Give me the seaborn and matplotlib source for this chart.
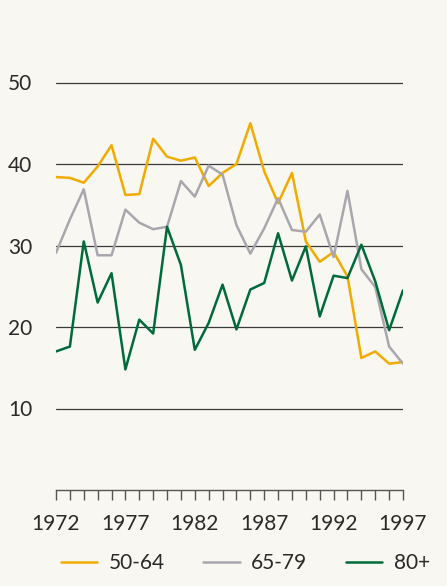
import matplotlib.pyplot as plt
import numpy as np
import pandas as pd
import seaborn as sns

years = list(range(1972, 1998))
age_50_64 = [38.4, 38.3, 37.7, 39.7, 42.3, 36.2, 36.3, 43.1, 40.9, 40.4, 40.8, 37.3, 38.9,
             40.0, 45.0, 39.1, 35.2, 38.9, 30.5, 28.0, 29.2, 26.2, 16.2, 17.0, 15.5, 15.7]
age_65_79 = [29.1, 33.2, 36.9, 28.8, 28.8, 34.4, 32.8, 32.0, 32.3, 37.9, 36.0, 39.8, 38.7,
             32.5, 29.0, 32.1, 35.8, 31.9, 31.7, 33.8, 28.6, 36.7, 27.1, 24.9, 17.6, 15.5]
age_80_plus = [17.0, 17.6, 30.5, 23.0, 26.6, 14.8, 20.9, 19.2, 32.3, 27.6, 17.2, 20.5, 25.2,
               19.7, 24.6, 25.4, 31.5, 25.7, 29.9, 21.3, 26.3, 26.0, 30.1, 25.6, 19.6, 24.5]
groups = ["50-64", "65-79", "80+"]
colours = ["#f2aa00", "#a9a6ae", "#006b3a"]

df = pd.DataFrame({
    "year": years * 3,
    "value": age_50_64 + age_65_79 + age_80_plus,
    "group": np.repeat(groups, len(years)),
})

bg = "#f8f7f1"
sns.set_style("white")
plt.rcParams["font.family"] = ["Lato", "DejaVu Sans"]

fig = plt.figure(figsize=(4.47, 5.86), dpi=100, facecolor=bg)
ax = fig.add_axes([56 / 447, 1 - 490 / 586, 347 / 447, (490 - 41.75) / 586])
ax.set_facecolor(bg)

for y in [10, 20, 30, 40, 50]:
    ax.axhline(y, color="#3a3a3a", lw=0.9, zorder=1)

sns.lineplot(data=df, x="year", y="value", hue="group", palette=colours,
             linewidth=1.8, ax=ax, legend=False, zorder=3)

ax.set_xlim(1972, 1997)
ax.set_ylim(0, 55)
ax.set_xlabel("")
ax.set_ylabel("")
for side in ["top", "right", "left"]:
    ax.spines[side].set_visible(False)
ax.spines["bottom"].set_color("#555555")
ax.spines["bottom"].set_linewidth(1.0)

ax.set_xticks(years)
ax.set_xticklabels([str(y) if (y - 1972) % 5 == 0 else "" for y in years])
ax.tick_params(axis="x", bottom=True, direction="out", length=7.5, width=1.0, color="#555555",
               labelsize=15, labelcolor="#2a2a2a", pad=10)
ax.set_yticks([10, 20, 30, 40, 50])
ax.tick_params(axis="y", left=False, labelsize=15, labelcolor="#2a2a2a", pad=13.5)

handles = [plt.Line2D([], [], color=c, lw=1.8) for c in colours]
fig.legend(handles, groups, loc="center left", bbox_to_anchor=(42 / 447, 1 - 563 / 586),
           ncol=3, frameon=False, fontsize=15, handlelength=1.75, handletextpad=0.55,
           columnspacing=1.85, labelcolor="#2a2a2a")

fig.savefig("out.png", dpi=100, facecolor=bg)
